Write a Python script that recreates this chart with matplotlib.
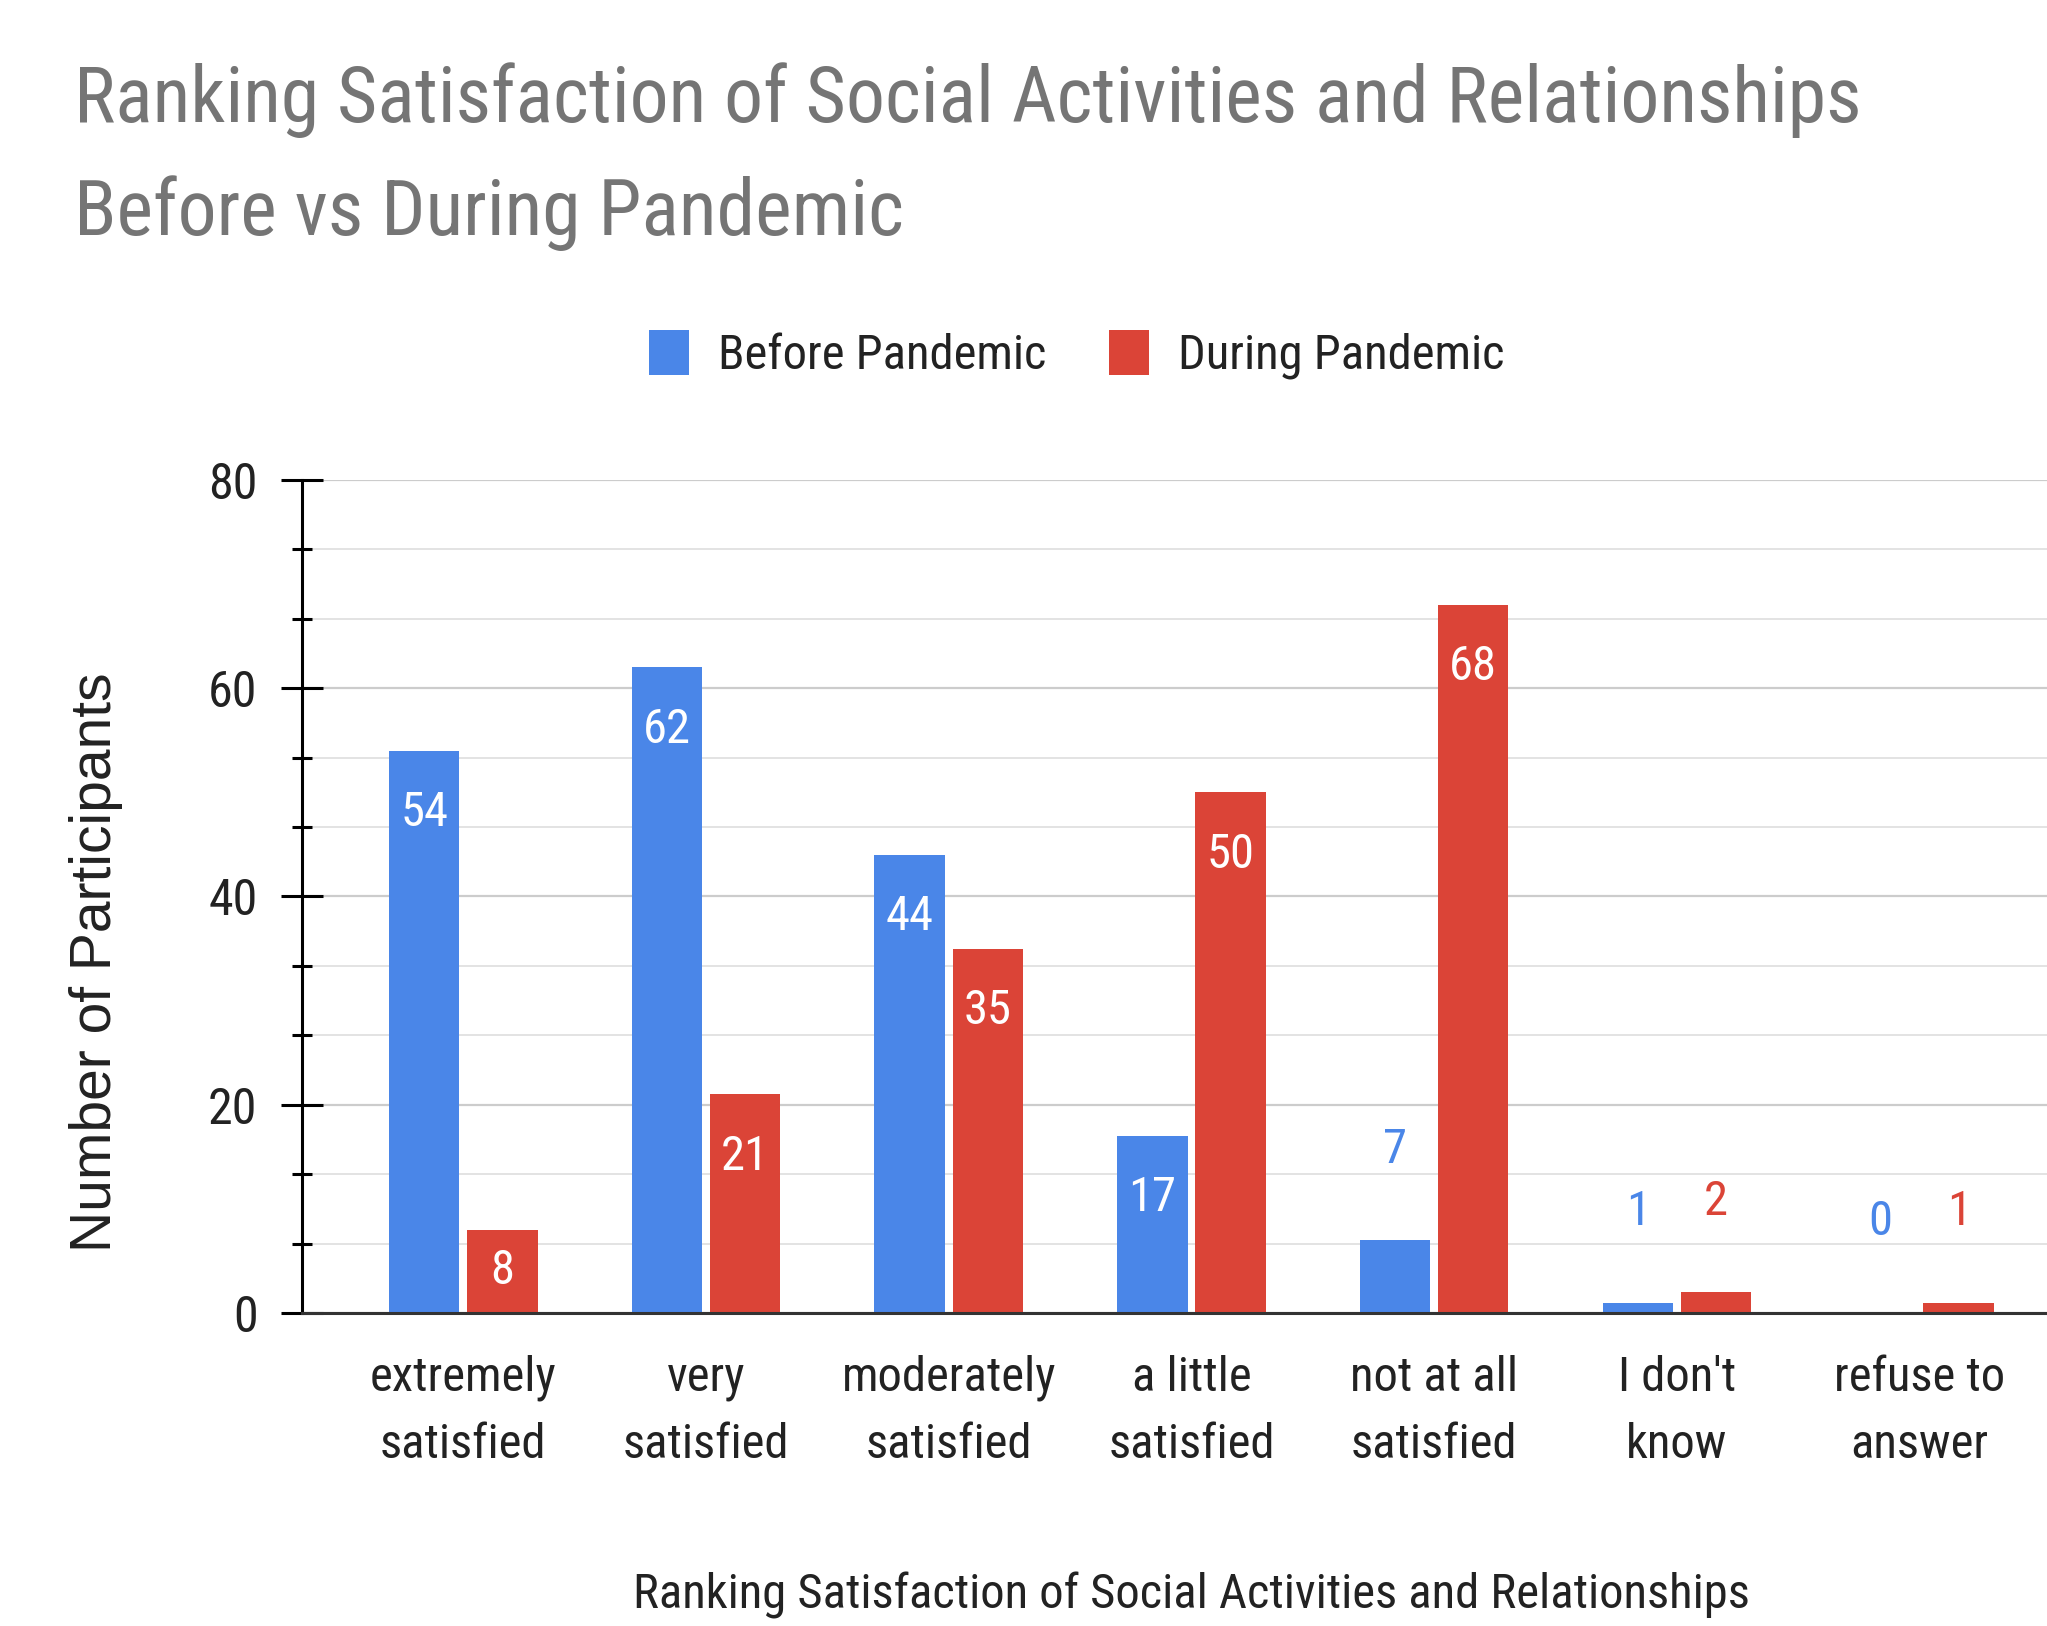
import matplotlib
matplotlib.use("Agg")
import matplotlib.pyplot as plt
from matplotlib.patches import Patch
from matplotlib.ticker import MultipleLocator
from matplotlib import font_manager

"""font: dar (condensed) bir aile varsa onu kullan"""
names = {f.name for f in font_manager.fontManager.ttflist}
fam = 'Roboto'
sc = 0.88
for cand in ['Roboto Condensed', 'Liberation Sans Narrow', 'Open Sans Condensed']:
    if cand in names:
        fam = cand
        sc = 1.0
        break
plt.rcParams['font.family'] = [fam, 'DejaVu Sans']

"""data"""
categories = ["extremely\nsatisfied", "very\nsatisfied", "moderately\nsatisfied",
              "a little\nsatisfied", "not at all\nsatisfied", "I don't\nknow", "refuse to\nanswer"]
before = [54, 62, 44, 17, 7, 1, 0]
during = [8, 21, 35, 50, 68, 2, 1]
series_names = ["Before Pandemic", "During Pandemic"]
title_lines = ["Ranking Satisfaction of Social Activities and Relationships",
               "Before vs During Pandemic"]
x_title = "Ranking Satisfaction of Social Activities and Relationships"
y_title = "Number of Participants"

blue = "#4A86E8"
red = "#DB4437"
colors = [blue, red]

fs = 35 * sc

fig = plt.figure(figsize=(20.47, 16.26), dpi=100)
ax = fig.add_axes([0.1475, 0.1925, 0.8525, 0.5123])

w = 0.29
off = 0.161
xs = list(range(len(categories)))
for k, vals in enumerate([before, during]):
    pos = [x + (off if k else -off) for x in xs]
    ax.bar(pos, vals, width=w, color=colors[k], zorder=3)
    for p, v in zip(pos, vals):
        if v >= 8:
            ax.text(p, max(v - 6.0, v / 2), str(v), ha='center', va='center',
                    color='white', fontsize=fs, zorder=4)
        else:
            ax.text(p, v + 8.7, str(v), ha='center', va='center',
                    color=colors[k], fontsize=fs, zorder=4)

ax.set_xlim(-0.665, 6.525)
ax.set_ylim(0, 80)
ax.set_xticks(xs)
ax.set_xticklabels(categories, fontsize=fs, color='#222222', linespacing=1.58 / sc)
ax.tick_params(axis='x', length=0, pad=30)

ax.yaxis.set_major_locator(MultipleLocator(20))
ax.yaxis.set_minor_locator(MultipleLocator(20 / 3))
ax.tick_params(axis='y', which='major', direction='inout', length=30, width=2.2,
               labelsize=36 * sc, labelcolor='#222222', pad=17)
ax.tick_params(axis='y', which='minor', direction='inout', length=14, width=2.2)
ax.grid(axis='y', which='major', color='#cccccc', linewidth=1.6, zorder=0)
ax.grid(axis='y', which='minor', color='#e3e3e3', linewidth=1.4, zorder=0)

for s in ['top', 'right']:
    ax.spines[s].set_visible(False)
ax.spines['left'].set_linewidth(2.2)
ax.spines['left'].set_color('black')
ax.spines['bottom'].set_linewidth(2.2)
ax.spines['bottom'].set_color('#333333')
ax.spines['bottom'].set_zorder(5)

"""başlıklar"""
fig.text(0.0362, 0.925, title_lines[0], fontsize=56 * sc, color='#757575', va='baseline')
fig.text(0.0362, 0.8555, title_lines[1], fontsize=56 * sc, color='#757575', va='baseline')
fig.text(0.582, 0.019, x_title, fontsize=fs, color='#222222', ha='center', va='center')
fig.text(0.047, 0.408, y_title, fontsize=41, color='#222222', ha='center', va='center',
         rotation=90, family=['Liberation Sans', 'DejaVu Sans'])

handles = [Patch(facecolor=c, edgecolor='none') for c in colors]
fig.legend(handles, series_names, loc='center', bbox_to_anchor=(0.526, 0.782), ncol=2,
           frameon=False, fontsize=fs, handlelength=0.82 / sc, handleheight=1.05 / sc,
           handletextpad=0.6 / sc, columnspacing=1.3 / sc, labelcolor='#222222')

fig.savefig("out.png", dpi=100)
